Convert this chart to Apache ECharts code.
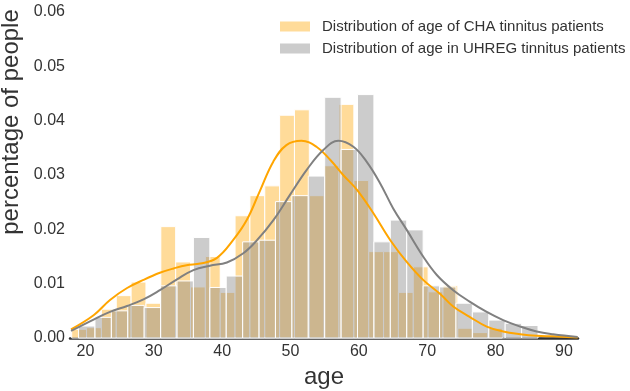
<!DOCTYPE html>
<html>
<head>
<meta charset="utf-8">
<script src="https://cdn.jsdelivr.net/npm/echarts@6/dist/echarts.min.js"></script>
<style>
  html, body { margin: 0; padding: 0; background: #fff; }
  #chart { width: 630px; height: 391px; }
</style>
</head>
<body>
<div id="chart"></div>
<script>
// histogram bins (age)
const chaBinStart = 18;
const chaBinWidth = 2.172;
const chaHist = [0.0016, 0.0019, 0.0053, 0.0078, 0.0103, 0.0064, 0.0205, 0.0140, 0.0094, 0.0150,
  0.0084, 0.0225, 0.0262, 0.0280, 0.0410, 0.0420, 0.0262, 0.0317, 0.0430, 0.0290,
  0.0159, 0.0159, 0.0084, 0.0131, 0.0085, 0.0096, 0.0018, 0.0010, 0.0018];

const uhregBinStart = 19;
const uhregBinWidth = 2.4;
const uhregHist = [0.0022, 0.0038, 0.0050, 0.0060, 0.0056, 0.0096, 0.0105, 0.0185, 0.0093, 0.0114,
  0.0177, 0.0180, 0.0251, 0.0262, 0.0298, 0.0443, 0.0347, 0.0448, 0.0177, 0.0217,
  0.0199, 0.0096, 0.0094, 0.0064, 0.0048, 0.0033, 0.0027, 0.0023];

// density curves [age, density]
const chaKde = [[17.9, 0.0016], [21.2, 0.0042], [23.6, 0.0070], [26.1, 0.0092], [28.5, 0.0107],
  [30.9, 0.0120], [32.9, 0.0128], [34.8, 0.0134], [36.8, 0.0137], [39.2, 0.0147],
  [41.6, 0.0180], [43.6, 0.0217], [45.5, 0.0270], [47.5, 0.0325], [49.4, 0.0355],
  [51.6, 0.0363], [53.8, 0.0352], [55.8, 0.0328], [57.7, 0.0300], [59.7, 0.0273],
  [62.1, 0.0230], [64.6, 0.0180], [67.0, 0.0140], [69.4, 0.0107], [71.9, 0.0081],
  [73.8, 0.0058], [76.2, 0.0039], [78.7, 0.0021], [81.1, 0.0012], [83.6, 0.0007],
  [86.0, 0.0004], [88.4, 0.0003], [92.0, 0.0001]];

const uhregKde = [[17.9, 0.0013], [21.2, 0.0034], [23.6, 0.0048], [26.1, 0.0059], [28.5, 0.0071],
  [30.9, 0.0088], [33.4, 0.0108], [35.8, 0.0125], [38.2, 0.0133], [40.7, 0.0139],
  [43.1, 0.0156], [45.1, 0.0180], [47.5, 0.0217], [49.9, 0.0263], [52.4, 0.0310],
  [54.8, 0.0346], [57.0, 0.0363], [59.2, 0.0352], [61.1, 0.0325], [63.1, 0.0285],
  [65.0, 0.0239], [67.0, 0.0199], [69.4, 0.0150], [71.4, 0.0116], [73.8, 0.0088],
  [76.2, 0.0067], [78.7, 0.0048], [81.1, 0.0033], [83.6, 0.0021], [86.0, 0.0012],
  [88.4, 0.0007], [92.0, 0.0002]];

const xTicks = [20, 30, 40, 50, 60, 70, 80, 90];
const chaName = 'Distribution of age of CHA tinnitus patients';
const uhregName = 'Distribution of age in UHREG tinnitus patients';

const font = '"Liberation Sans", Arial, Helvetica, sans-serif';
const chaFill = 'rgba(255,165,0,0.4)';
const uhregFill = 'rgba(128,128,128,0.4)';

function binRows(start, width, values) {
  return values.map((v, i) => [start + i * width, start + (i + 1) * width, v]);
}

function histItem(fill) {
  return function (params, api) {
    const p0 = api.coord([api.value(0), 0]);
    const p1 = api.coord([api.value(1), api.value(2)]);
    return {
      type: 'rect',
      shape: { x: p0[0], y: p1[1], width: p1[0] - p0[0], height: p0[1] - p1[1] },
      style: { fill: fill, stroke: '#fff', lineWidth: 1 }
    };
  };
}

const chart = echarts.init(document.getElementById('chart'));
chart.setOption({
  animation: false,
  textStyle: { fontFamily: font },
  grid: { left: 70, right: 52, top: 12, bottom: 53, outerBoundsMode: 'none' },
  legend: {
    orient: 'vertical',
    left: 275,
    top: 14,
    icon: 'rect',
    itemWidth: 30,
    itemHeight: 10,
    itemGap: 7,
    textStyle: { fontFamily: font, fontSize: 15, color: '#333', padding: [0, 0, 0, 7] },
    data: [
      { name: chaName, itemStyle: { color: chaFill } },
      { name: uhregName, itemStyle: { color: uhregFill } }
    ]
  },
  xAxis: {
    type: 'value',
    min: 17.75,
    max: 92.05,
    name: 'age',
    nameLocation: 'middle',
    nameGap: 26,
    nameTextStyle: { fontFamily: font, fontSize: 24, color: '#333' },
    axisLine: { show: true, lineStyle: { color: '#333', width: 2.5 } },
    axisTick: { show: false },
    splitLine: { show: false },
    axisLabel: { customValues: xTicks, fontFamily: font, fontSize: 16, color: '#333', margin: 6 }
  },
  yAxis: {
    type: 'value',
    min: 0,
    max: 0.06,
    interval: 0.01,
    name: 'percentage of people',
    nameLocation: 'middle',
    nameGap: 42,
    nameRotate: 90,
    nameTextStyle: { fontFamily: font, fontSize: 24, color: '#333', padding: [0, 0, 0, 106] },
    axisLine: { show: false },
    axisTick: { show: false },
    splitLine: { show: false },
    axisLabel: { fontFamily: font, fontSize: 16, color: '#333', margin: 5,
      formatter: v => v.toFixed(2) }
  },
  series: [
    {
      name: chaName,
      type: 'custom',
      renderItem: histItem(chaFill),
      encode: { x: [0, 1], y: 2 },
      itemStyle: { color: chaFill },
      data: binRows(chaBinStart, chaBinWidth, chaHist),
      z: 1
    },
    {
      name: uhregName,
      type: 'custom',
      renderItem: histItem(uhregFill),
      encode: { x: [0, 1], y: 2 },
      itemStyle: { color: uhregFill },
      data: binRows(uhregBinStart, uhregBinWidth, uhregHist),
      z: 2
    },
    {
      name: 'cha kde',
      type: 'line',
      data: chaKde,
      smooth: 0.4,
      showSymbol: false,
      lineStyle: { color: '#FFA500', width: 2 },
      z: 3
    },
    {
      name: 'uhreg kde',
      type: 'line',
      data: uhregKde,
      smooth: 0.4,
      showSymbol: false,
      lineStyle: { color: '#808080', width: 2 },
      z: 4
    }
  ]
});
</script>
</body>
</html>
